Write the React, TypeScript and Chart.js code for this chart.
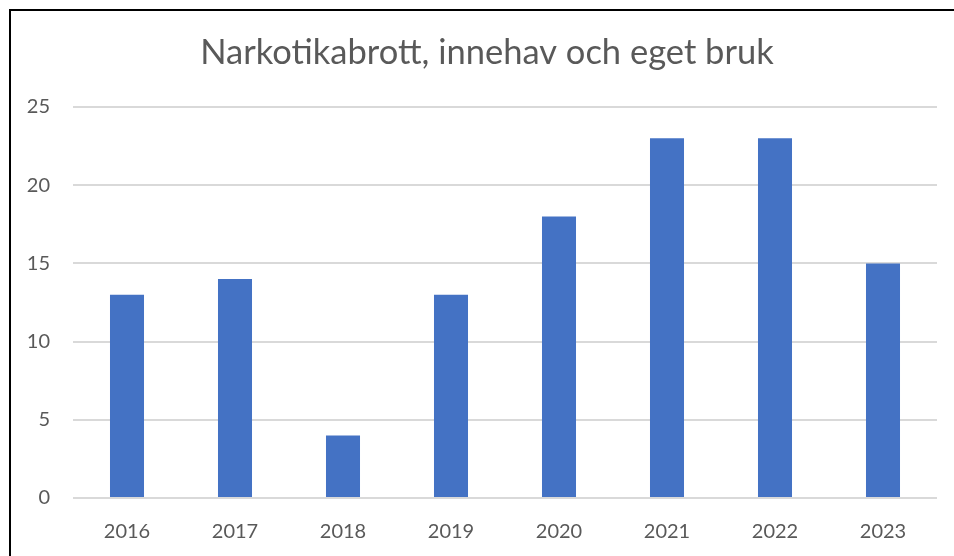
import React, { useEffect, useRef } from "react";
import { Chart, registerables } from "chart.js";

Chart.register(...registerables);

const titleText = "Narkotikabrott, innehav och eget bruk";
const categories = ["2016", "2017", "2018", "2019", "2020", "2021", "2022", "2023"];
const values = [13, 14, 4, 13, 18, 23, 23, 15];
const yTicks = [0, 5, 10, 15, 20, 25];

const FONT = "Lato, 'Open Sans', sans-serif";
const TEXT = "#595959";

const titlePlugin = {
  id: "offsetTitle",
  afterDraw(chart: any) {
    const ctx = chart.ctx;
    ctx.save();
    ctx.font = `normal 34.5px ${FONT}`;
    ctx.fillStyle = TEXT;
    ctx.textAlign = "center";
    ctx.textBaseline = "middle";
    ctx.fillText(titleText, 487, 53);
    ctx.restore();
  },
};

export default function App() {
  const ref = useRef<HTMLCanvasElement | null>(null);

  useEffect(() => {
    if (!ref.current) return;
    const chart = new Chart(ref.current, {
      type: "bar",
      data: {
        labels: categories,
        datasets: [
          {
            data: values,
            backgroundColor: "#4472C4",
            borderWidth: 0,
            barPercentage: 0.315,
            categoryPercentage: 1,
          },
        ],
      },
      plugins: [titlePlugin],
      options: {
        responsive: false,
        animation: false,
        layout: { padding: { left: 0, right: 17, top: 107, bottom: 0 } },
        plugins: {
          legend: { display: false },
          tooltip: { enabled: false },
          title: { display: false },
        },
        scales: {
          x: {
            grid: { display: false, drawTicks: false },
            border: { display: false },
            ticks: {
              color: TEXT,
              font: { family: FONT, size: 20 },
              padding: 22,
              maxRotation: 0,
            },
            afterFit: (s: any) => {
              s.height = 58;
            },
          },
          y: {
            min: 0,
            max: 25,
            afterBuildTicks: (s: any) => {
              s.ticks = yTicks.map((v) => ({ value: v }));
            },
            grid: { color: "#D9D9D9", lineWidth: 2, drawTicks: false },
            border: { display: false },
            ticks: {
              color: TEXT,
              font: { family: FONT, size: 20 },
              padding: 23,
            },
            afterFit: (s: any) => {
              s.width = 73;
            },
          },
        },
      },
    });
    return () => chart.destroy();
  }, []);

  return (
    <div
      style={{
        position: "fixed",
        left: 0,
        top: 0,
        width: 954,
        height: 556,
        overflow: "hidden",
        background: "#fff",
      }}
    >
      <canvas ref={ref} width={954} height={556} style={{ position: "absolute", left: 0, top: 0 }} />
      <div
        style={{
          position: "absolute",
          left: 9,
          top: 9,
          width: 2000,
          height: 2000,
          borderLeft: "2px solid #000",
          borderTop: "2px solid #000",
          pointerEvents: "none",
        }}
      />
    </div>
  );
}
